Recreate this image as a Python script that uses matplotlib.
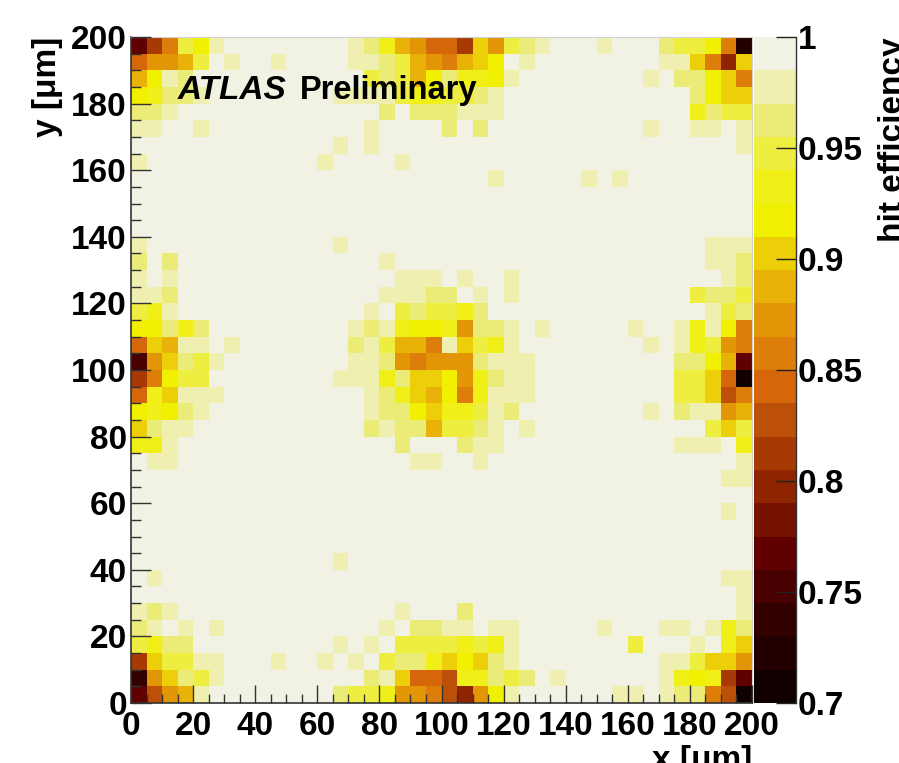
#!/usr/bin/env python
import numpy as np
import matplotlib
matplotlib.use('Agg')
import matplotlib.pyplot as plt
from matplotlib.colors import ListedColormap, BoundaryNorm
from matplotlib.ticker import MultipleLocator

W, H = 899, 763

# colour band of each 5x5 um cell, top row (y=195-200) first
# . = top band (0.985-1), 1..9 a..j = one band lower each (bands are 0.015 wide)
rows = [
    "fc9351........12478a" + "ac68321...1...23359i",
    "a8873.1..1....112378" + "9765.1........1169d6",
    "7512...........32375" + "24451........1.22569",
    "54221........1111344" + "3321............2566",
    "221.............2.22" + "2111............4233",
    "11..1..........1...." + "2.2..........1..11.1",
    ".............1.1...." + "...................1",
    "1...........1....1.." + "....................",
    "...................." + "...1.....1.1........",
    "...................." + "....................",
    "...................." + "....................",
    "...................." + "....................",
    "1............1......" + ".................111",
    "2.2.............1..." + ".................112",
    "1.1..............111" + ".1..1.............12",
    "112.............1112" + "2.1.1...........3223",
    "341............1.323" + "342..............132",
    "55242.........121455" + "48221.1.....1..14159",
    "a6711.1.......213779" + "16341........1.14389",
    "g86231........112898" + "882111.........2257f",
    "c9533........1114266" + "584211.........336aj",
    "a46111.........12467" + "594111.........336b9",
    "54521..........12256" + "44312........1.21187",
    "6211...........21227" + "3321.1...........363",
    "441..............2.." + ".211...........111.4",
    ".11...............11" + "..1................1",
    "...................." + "..................11",
    "...................." + "....................",
    "...................." + "..................1.",
    "...................." + "....................",
    "...................." + "....................",
    ".............1......" + "....................",
    ".1.................." + "..................11",
    "...................." + "...................1",
    "121..............1.." + ".2.................1",
    "21.1.1..........1.22" + "11.11.....1...11.142",
    "3422.........1.1.333" + "34341.......3...1.46",
    "c63311...1..1.1.3224" + "65621.........113668",
    "h86231.........216aa" + "b44232.1......1454cf",
    "fb871........2334889" + "bd851......11.1229bj",
]
band_codes = ".123456789abcdefghij"

# colour bar bands from 1 down to 0.7
band_colors = ['#F1F2E4', '#EFF0B0', '#EBEC78', '#EEEE40', '#F0F018',
               '#F0F000', '#ECCF08', '#E8B208', '#E29505', '#DD7D0A',
               '#D5660A', '#BC5008', '#A63A02', '#8E2400', '#751200',
               '#610000', '#480000', '#330000', '#220000', '#100000']
band_edges = np.linspace(0.7, 1.0, 21)

x_edges = np.arange(0, 205, 5)
y_edges = np.arange(0, 205, 5)
cbar_ticks = [0.7, 0.75, 0.8, 0.85, 0.9, 0.95, 1.0]
cbar_labels = ['0.7', '0.75', '0.8', '0.85', '0.9', '0.95', '1']

plt.rcParams['font.family'] = 'Liberation Sans'
plt.rcParams['font.weight'] = 'bold'
FS = 24
DARK = '#333333'


def box(left, top, right, bottom):
    return [left / W, 1 - bottom / H, (right - left) / W, (bottom - top) / H]


# the picture lists rows from the top, the axis counts from the bottom
eff = np.zeros((40, 40))
for r, row in enumerate(rows):
    for c, ch in enumerate(row):
        eff[39 - r, c] = 1 - (band_codes.index(ch) + 0.5) * 0.015

fig = plt.figure(figsize=(W / 100, H / 100), dpi=100, facecolor='white')
ax = fig.add_axes(box(131, 37, 752, 703))
cmap = ListedColormap(band_colors[::-1])
norm = BoundaryNorm(band_edges, cmap.N)
mesh = ax.pcolormesh(x_edges, y_edges, eff, cmap=cmap, norm=norm, linewidth=0)

ax.set_xlim(0, 200)
ax.set_ylim(0, 200)
ax.xaxis.set_major_locator(MultipleLocator(20))
ax.xaxis.set_minor_locator(MultipleLocator(5))
ax.yaxis.set_major_locator(MultipleLocator(20))
ax.yaxis.set_minor_locator(MultipleLocator(5))
ax.tick_params(axis='x', which='major', direction='in', length=13, width=1, color=DARK, labelsize=FS, pad=6)
ax.tick_params(axis='x', which='minor', direction='in', length=6.5, width=1, color=DARK)
ax.tick_params(axis='y', which='major', direction='in', length=14.5, width=1, color=DARK, labelsize=FS, pad=3)
ax.tick_params(axis='y', which='minor', direction='in', length=7, width=1, color=DARK)
ax.set_axisbelow(False)
for name in ['left', 'bottom']:
    ax.spines[name].set_color(DARK)
    ax.spines[name].set_linewidth(1.2)
for name in ['top', 'right']:
    ax.spines[name].set_color('#d0d0d0')
    ax.spines[name].set_linewidth(0.8)

cax = fig.add_axes(box(754, 37, 796, 703))
cb = fig.colorbar(mesh, cax=cax, spacing='proportional', drawedges=False)
cb.set_ticks(cbar_ticks, labels=cbar_labels)
cb.minorticks_off()
cax.tick_params(axis='y', which='major', direction='in', length=14.5, width=1, color='#222222', labelsize=FS, pad=1.5)
# only the right side of the bar has a dark line
cb.outline.set_visible(False)
cax.spines['right'].set_visible(True)
cax.spines['right'].set_color(DARK)
cax.spines['right'].set_linewidth(1.0)

# axis titles sit at the frame ends, two of them run off the image like in the original
fig.text(752 / W, 1 - 745 / H, 'x [μm]', ha='right', va='top', fontsize=FS)
fig.text(32 / W, 1 - 37 / H, 'y [μm]', ha='left', va='top', rotation=90, fontsize=FS)
fig.text(878 / W, 1 - 37 / H, 'hit efficiency', ha='left', va='top', rotation=90, fontsize=FS)

fig.text(178 / W, 1 - 99 / H, 'ATLAS', style='italic', ha='left', va='baseline', fontsize=FS)
fig.text(300 / W, 1 - 99 / H, 'Preliminary', ha='left', va='baseline', fontsize=23.5)

fig.savefig('out.png', dpi=100)
